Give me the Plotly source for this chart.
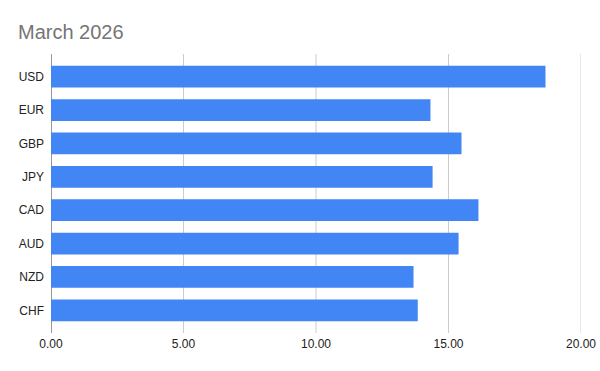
import plotly.graph_objects as go

categories = ["USD", "EUR", "GBP", "JPY", "CAD", "AUD", "NZD", "CHF"]
values = [18.66, 14.32, 15.49, 14.40, 16.13, 15.38, 13.68, 13.84]
x_ticks = [0, 5, 10, 15, 20]
x_tick_labels = ["0.00", "5.00", "10.00", "15.00", "20.00"]

fig = go.Figure(go.Bar(
    x=values, y=categories, orientation="h",
    marker=dict(color="#4285F4", line=dict(width=0)),
))

plot_h = 371 - 60 - 44
ext = 6 / plot_h

shapes = []
for t in x_ticks:
    shapes.append(dict(type="line", xref="x", yref="paper", x0=t, x1=t,
                       y0=-ext, y1=1 + ext, layer="below",
                       line=dict(color="#333333" if t == 0 else "#cccccc", width=1)))

fig.update_layout(
    width=600, height=371,
    margin=dict(l=50.5, r=18.7, t=60, b=44, autoexpand=False),
    paper_bgcolor="white", plot_bgcolor="white",
    title=dict(text="March 2026", x=0.03, xanchor="left", y=0.915, yanchor="middle",
               font=dict(family="Liberation Sans, Arial", size=20, color="#757575")),
    font=dict(family="Liberation Sans, Arial", size=12, color="#222222"),
    bargap=0.35,
    showlegend=False,
    xaxis=dict(range=[0, 20], tickvals=x_ticks, ticktext=x_tick_labels,
               showgrid=False, zeroline=False,
               ticks="outside", ticklen=6, tickcolor="rgba(0,0,0,0)", automargin=False,
               tickfont=dict(size=12, color="#222222"), showline=False),
    yaxis=dict(categoryorder="array", categoryarray=categories, autorange="reversed",
               showgrid=False, zeroline=False, showline=False, automargin=False,
               ticks="", ticklabelstandoff=6,
               tickfont=dict(size=12, color="#222222")),
    shapes=shapes,
)

fig.write_html("out.html", config={"displayModeBar": False},
               post_script="document.body.style.margin='0';")
